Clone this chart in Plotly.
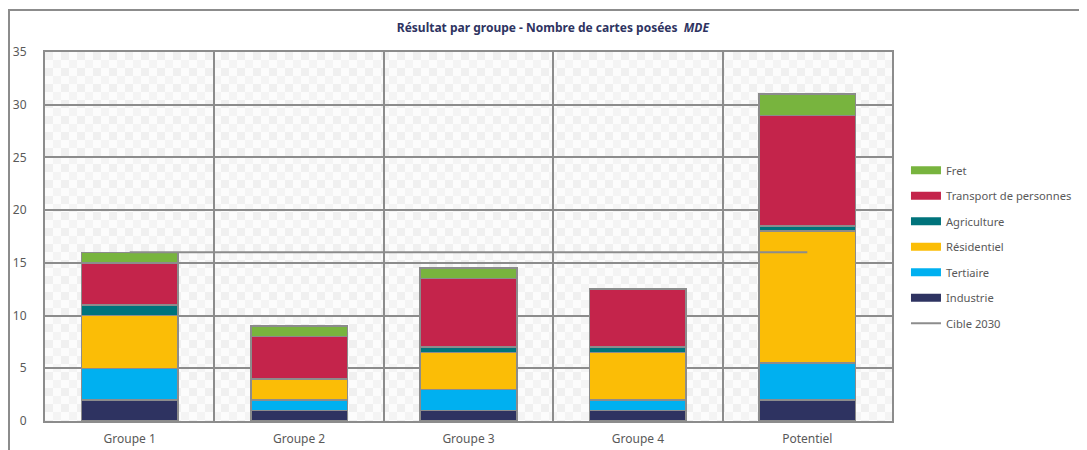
import base64
import plotly.graph_objects as go

categories = ["Groupe 1", "Groupe 2", "Groupe 3", "Groupe 4", "Potentiel"]

industrie = [2, 1, 1, 1, 2]
tertiaire = [3, 1, 2, 1, 3.5]
residentiel = [5, 2, 3.5, 4.5, 12.5]
agriculture = [1, 0, 0.5, 0.5, 0.5]
transport = [4, 4, 6.5, 5.5, 10.5]
fret = [1, 1, 1, 0, 2]
cible_2030 = [16, 16, 16, 16, 16]

series = [
    ("Industrie", industrie, "#2e3361"),
    ("Tertiaire", tertiaire, "#00b0f0"),
    ("Résidentiel", residentiel, "#fbbd06"),
    ("Agriculture", agriculture, "#00737b"),
    ("Transport de personnes", transport, "#c4244b"),
    ("Fret", fret, "#78b43e"),
]

grey = "#8c8c8c"
txt = "#595959"

fig = go.Figure()
for i, (name, vals, col) in enumerate(series):
    fig.add_trace(go.Bar(
        name=name, x=categories, y=vals, showlegend=False,
        marker=dict(color=col, line=dict(color=grey, width=1.5)),
    ))
    # legend entry drawn as a wide swatch
    fig.add_trace(go.Scatter(
        name=name, x=[None], y=[None], mode="lines",
        line=dict(color=col, width=8),
        legendrank=len(series) - i, legendgroup=name,
    ))

fig.add_trace(go.Scatter(
    name="Cible 2030", x=categories, y=cible_2030, mode="lines",
    line=dict(color=grey, width=2), legendrank=10, legendgroup="cible",
))

# checkered background of the plot area
svg = (
    '<svg xmlns="http://www.w3.org/2000/svg" width="847" height="369">'
    '<defs><pattern id="p" width="16" height="16" patternUnits="userSpaceOnUse">'
    '<rect width="16" height="16" fill="#fcfcfc"/>'
    '<rect width="8" height="8" fill="#f0f0f0"/>'
    '<rect x="8" y="8" width="8" height="8" fill="#f4f4f4"/>'
    '</pattern></defs><rect width="847" height="369" fill="url(#p)"/></svg>'
)
src = "data:image/svg+xml;base64," + base64.b64encode(svg.encode()).decode()
fig.add_layout_image(dict(
    source=src, xref="paper", yref="paper", x=0, y=1, sizex=1, sizey=1,
    xanchor="left", yanchor="top", sizing="stretch", layer="below",
))

# outer frame of the chart
fig.add_shape(type="rect", xref="paper", yref="paper",
              x0=-0.0425, x1=1.25, y0=-0.12, y1=1.114,
              line=dict(color=grey, width=2), fillcolor="rgba(0,0,0,0)")

fig.update_layout(
    width=1079, height=442,
    margin=dict(l=37, r=195, t=44, b=29, autoexpand=False),
    paper_bgcolor="white", plot_bgcolor="rgba(0,0,0,0)",
    barmode="stack", bargap=0.43,
    font=dict(family="Noto Sans", size=12, color=txt),
    title=dict(
        text="<b>Résultat par groupe - Nombre de cartes posées  <i>MDE</i></b>",
        x=0.505, xref="container", xanchor="center", y=0.955, yanchor="middle",
        font=dict(size=12, color="#2e3361"),
    ),
    legend=dict(
        x=1.0165, xanchor="left", y=0.719, yanchor="top",
        traceorder="grouped", tracegroupgap=6.5,
        font=dict(size=11.2, color=txt), itemwidth=30,
    ),
    showlegend=True,
)
fig.update_xaxes(
    showgrid=True, gridcolor=grey, gridwidth=1.5, tickson="boundaries",
    showline=True, linecolor=grey, linewidth=2, mirror=True,
    ticks="", ticklabelstandoff=6, automargin=False,
)
fig.update_yaxes(
    range=[0, 35], dtick=5, showgrid=True, gridcolor=grey, gridwidth=1.5,
    showline=True, linecolor=grey, linewidth=2, mirror=True,
    ticks="", ticklabelstandoff=14, zeroline=False, automargin=False,
)

fig.write_html("out.html")
